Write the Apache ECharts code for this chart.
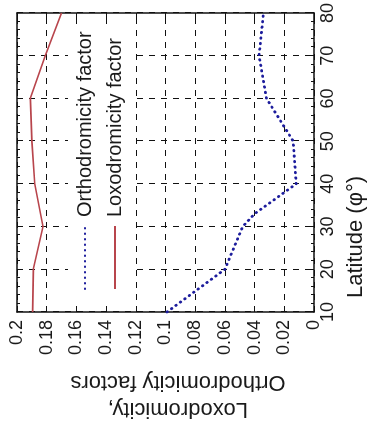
<!DOCTYPE html>
<html>
<head>
<meta charset="utf-8">
<script src="https://cdn.jsdelivr.net/npm/echarts@6/dist/echarts.min.js"></script>
<style>
  html, body { margin: 0; padding: 0; background: #fff; overflow: hidden; }
  body { width: 369px; height: 423px; position: relative; }
  /* the original figure is drawn upright, then turned a quarter turn counter-clockwise */
  #chart { position: absolute; width: 423px; height: 369px; left: -27px; top: 27px;
           transform: rotate(-90deg); transform-origin: 50% 50%; }
</style>
</head>
<body>
<div id="chart"></div>
<script>
// ---- data ----
const orthoLatitude = [10, 20, 30, 33, 40, 50, 60, 70, 80];
const orthoFactor   = [0.099, 0.060, 0.048, 0.040, 0.012, 0.014, 0.032, 0.037, 0.034];
const loxoLatitude  = [10, 20, 30, 40, 50, 60, 70, 80];
const loxoFactor    = [0.1895, 0.189, 0.1825, 0.188, 0.190, 0.191, 0.181, 0.170];
const seriesNames   = ['Orthodromicity factor', 'Loxodromicity factor'];
const latitudeTitle = 'Latitude (\u03c6\u00b0)';
const factorTitle   = 'Loxodromicity,\nOrthodromicity factors';

const FONT = '"Liberation Sans", Arial, Helvetica, sans-serif';
const INK = '#1a1a1a';

function pairs(xs, ys) { return xs.map((x, i) => [x, ys[i]]); }

const chart = echarts.init(document.getElementById('chart'));

const gridLine = { show: true, lineStyle: { color: '#111', width: 1, type: [6, 6] } };
const frameLine = { show: true, onZero: false, lineStyle: { color: '#111', width: 1.5 } };
const tick = { show: true, inside: true, length: 5, lineStyle: { color: '#111' } };
const minor = { show: true, splitNumber: 5, length: 3, lineStyle: { color: '#111' } };

chart.setOption({
  animation: false,
  backgroundColor: '#fff',
  grid: { left: 111, right: 13, top: 17, bottom: 55 },
  xAxis: [
    { type: 'value', min: 10, max: 80, interval: 10, position: 'bottom',
      axisLine: frameLine, axisTick: tick, minorTick: minor,
      splitLine: gridLine,
      axisLabel: { fontSize: 18, fontFamily: FONT, color: INK, margin: 5 } },
    { type: 'value', min: 10, max: 80, interval: 10, position: 'top',
      axisLine: frameLine, axisTick: tick, minorTick: minor,
      splitLine: { show: false }, axisLabel: { show: false } }
  ],
  yAxis: [
    { type: 'value', min: 0, max: 0.2, interval: 0.02, position: 'left',
      axisLine: frameLine, axisTick: tick,
      splitLine: gridLine,
      axisLabel: { fontSize: 18, fontFamily: FONT, color: INK, margin: 8,
                   formatter: v => String(+v.toFixed(2)) } },
    { type: 'value', min: 0, max: 0.2, interval: 0.02, position: 'right',
      axisLine: frameLine, axisTick: tick,
      splitLine: { show: false }, axisLabel: { show: false } }
  ],
  legend: {
    orient: 'vertical', left: 123, top: 68,
    padding: [7, 3, 7, 10],
    backgroundColor: '#fff', borderWidth: 0,
    itemWidth: 63, itemHeight: 20, itemGap: 10,
    itemStyle: { color: 'rgba(0,0,0,0)', borderWidth: 0 },
    textStyle: { fontSize: 20, fontFamily: FONT, color: INK, padding: [0, 0, 0, 4] },
    data: seriesNames
  },
  series: [
    { name: seriesNames[0], type: 'line', symbol: 'none', xAxisIndex: 0, yAxisIndex: 0,
      data: pairs(orthoLatitude, orthoFactor),
      lineStyle: { color: '#1c1c9c', width: 2.8, type: [0.5, 5], cap: 'round' },
      itemStyle: { color: '#1c1c9c' } },
    { name: seriesNames[1], type: 'line', symbol: 'none', xAxisIndex: 0, yAxisIndex: 0,
      data: pairs(loxoLatitude, loxoFactor),
      lineStyle: { color: '#b8454c', width: 1.6 },
      itemStyle: { color: '#b8454c' } }
  ],
  graphic: [
    { type: 'text', x: 186, y: 356,
      style: { text: latitudeTitle, align: 'center', verticalAlign: 'middle',
               font: '22px ' + FONT, fill: INK } },
    { type: 'text', x: 27.5, y: 178, rotation: Math.PI / 2,
      style: { text: factorTitle, align: 'center', verticalAlign: 'middle',
               font: '22px ' + FONT, lineHeight: 27, fill: INK } }
  ]
});
</script>
</body>
</html>
